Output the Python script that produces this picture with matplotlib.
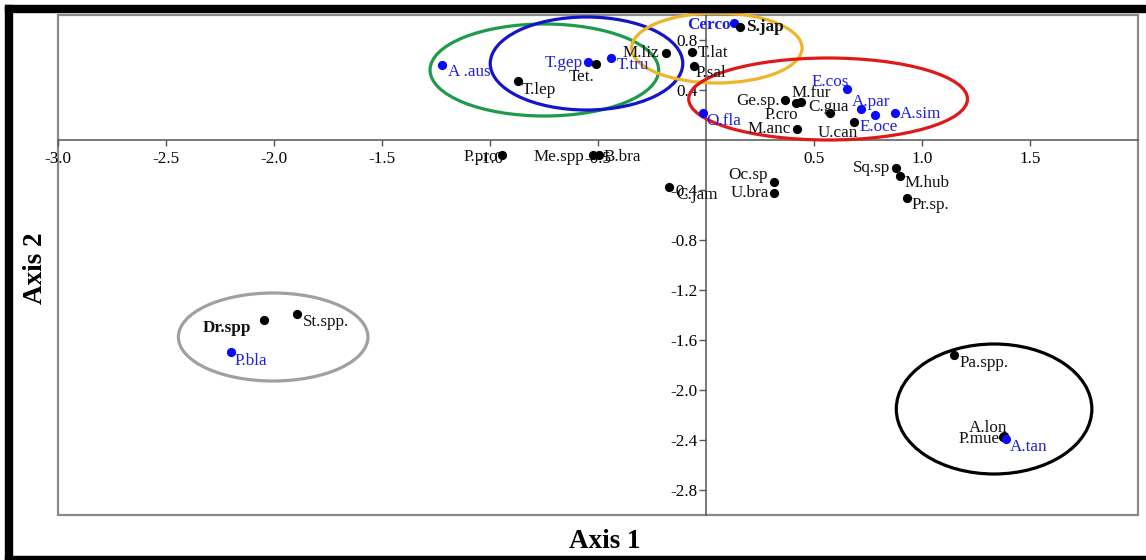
import matplotlib
matplotlib.use("Agg")
import matplotlib.pyplot as plt
from matplotlib.patches import Ellipse, Rectangle

plt.rcParams['font.family'] = ['Liberation Serif', 'DejaVu Serif']
plt.rcParams['axes.unicode_minus'] = False

# ---- data ----
species = ["A .aus", "T.lep", "T.gep", "Tet.", "T.tru", "M.liz", "T.lat", "P.sal",
           "Cerco", "S.jap", "O.fla", "Ge.sp.", "P.cro", "M.fur", "C.gua", "U.can",
           "M.anc", "E.cos", "A.par", "E.oce", "A.sim", "P.pro", "Me.spp", "B.bra",
           "C.jam", "Oc.sp", "U.bra", "Sq.sp", "M.hub", "Pr.sp.", "Dr.spp", "St.spp.",
           "P.bla", "Pa.spp.", "A.lon", "P.mue", "A.tan"]
axis1 = [-1.220, -0.871, -0.544, -0.510, -0.438, -0.186, -0.066, -0.054,
         0.131, 0.159, -0.015, 0.368, 0.418, 0.441, 0.575, 0.688,
         0.422, 0.653, 0.719, 0.781, 0.874, -0.943, -0.524, -0.492,
         -0.170, 0.314, 0.317, 0.882, 0.900, 0.933, -2.045, -1.890,
         -2.196, 1.149, 1.378, 1.374, 1.389]
axis2 = [0.600, 0.472, 0.622, 0.608, 0.658, 0.698, 0.702, 0.592,
         0.938, 0.906, 0.214, 0.320, 0.298, 0.306, 0.214, 0.144,
         0.088, 0.406, 0.246, 0.198, 0.214, -0.120, -0.120, -0.120,
         -0.374, -0.334, -0.422, -0.226, -0.286, -0.462, -1.440, -1.392,
         -1.698, -1.720, -2.368, -2.376, -2.390]
group = ["b", "k", "b", "k", "b", "k", "k", "k",
         "b", "k", "b", "k", "k", "k", "k", "k",
         "k", "b", "b", "b", "b", "k", "k", "k",
         "k", "k", "k", "k", "k", "k", "k", "k",
         "b", "k", "k", "k", "b"]
bold_labels = ["Cerco", "S.jap", "Dr.spp"]

xticks = [-3.0, -2.5, -2.0, -1.5, -1.0, -0.5, 0.5, 1.0, 1.5]
yticks = [0.8, 0.4, -0.4, -0.8, -1.2, -1.6, -2.0, -2.4, -2.8]

# ---- layout: label offsets in pixels (dx, dy up) ----
label_offsets = [(6, -6.7), (4.4, -9), (-43.7, -1), (-27, -12.7), (5.3, -7.3), (-43.3, 0),
                 (6, -1), (1.7, -6.7), (-46.6, -2.3), (5.7, 0), (3.3, -7.7), (-49.3, -0.7),
                 (-31.7, -12.3), (-10, 8.4), (-22.3, 6.6), (-36.6, -11.3), (-49.3, 0),
                 (-35.7, 7.6), (-9, 7.6), (-15, -11.4), (5, -1), (-38.4, -1.7), (-59.3, -1.7),
                 (4.3, -1.7), (6.7, -8.3), (-45.4, 6.7), (-44, -0.6), (-43.3, 0), (4.3, -7.6),
                 (4, -7.3), (-61, -8.3), (5.6, -7.7), (3.3, -8.4), (5.6, -8.3), (-34.7, 7.7),
                 (-44.3, -2), (4, -8)]

# group ellipses: (cx, cy, width, height, color) in data units
ellipses = [(-0.747, 0.560, 1.058, 0.736, "#1e9a4a"),
            (-0.552, 0.612, 0.891, 0.744, "#1414c8"),
            (0.051, 0.736, 0.789, 0.560, "#f0b428"),
            (0.566, 0.328, 1.290, 0.656, "#e01818"),
            (-2.002, -1.576, 0.877, 0.704, "#a0a0a0"),
            (1.334, -2.152, 0.905, 1.040, "#000000")]

colors = {"b": "#0a0aff", "k": "#000000"}
text_colors = {"b": "#2020d8", "k": "#111111"}

W, H = 1146, 560
fig = plt.figure(figsize=(W / 100, H / 100), dpi=100)
ax = fig.add_axes([57.5 / W, (H - 515) / H, (1138 - 57.5) / W, 500 / H])
ax.set_xlim(-3.0, 2.0)
ax.set_ylim(-3.0, 1.0)

for cx, cy, w, h, c in ellipses:
    ax.add_patch(Ellipse((cx, cy), w, h, fill=False, edgecolor=c, lw=2.3,
                         zorder=2, clip_on=False))

for name, x, y, g, (dx, dy) in zip(species, axis1, axis2, group, label_offsets):
    ax.scatter([x], [y], s=44, color=colors[g], zorder=4, linewidths=0)
    ax.annotate(name, (x, y), xytext=(dx, dy), textcoords="offset pixels",
                ha="left", va="center", fontsize=12.3, color=text_colors[g],
                fontweight="bold" if name in bold_labels else "normal", zorder=5)

# axes crossing at zero
for side in ["top", "right"]:
    ax.spines[side].set_visible(False)
ax.spines["left"].set_position(("data", 0))
ax.spines["bottom"].set_position(("data", 0))
for side in ["left", "bottom"]:
    ax.spines[side].set_color("#555555")
    ax.spines[side].set_linewidth(1.1)
    ax.spines[side].set_zorder(1)

ax.set_xticks(xticks)
ax.set_xticklabels([f"{v:.1f}" for v in xticks])
ax.set_yticks(yticks)
ax.set_yticklabels([f"{v:.1f}" for v in yticks])
ax.tick_params(axis="x", direction="out", length=4, width=1, color="#555555",
               pad=4, labelsize=12.3)
ax.tick_params(axis="y", direction="out", length=5, width=1, color="#555555",
               pad=1, labelsize=12.3)

# outer frame of plot area
ax.add_patch(Rectangle((0, 0), 1, 1, transform=ax.transAxes, fill=False,
                       edgecolor="#8a8a8a", lw=1.6, clip_on=False, zorder=1))

fig.text(605 / W, 1 - 541 / H, "Axis 1", ha="center", va="center",
         fontsize=19.5, fontweight="bold")
fig.text(35 / W, 1 - 268 / H, "Axis 2", ha="center", va="center",
         fontsize=19.5, fontweight="bold", rotation=90)

# black figure border (left, top, bottom)
fig.patches.append(Rectangle((5 / W, 0), 7 / W, (H - 5) / H, transform=fig.transFigure,
                             color="black", zorder=10))
fig.patches.append(Rectangle((5 / W, (H - 12) / H), (W - 5) / W, 7 / H,
                             transform=fig.transFigure, color="black", zorder=10))
fig.patches.append(Rectangle((5 / W, 0), (W - 5) / W, 4 / H,
                             transform=fig.transFigure, color="black", zorder=10))

fig.savefig("out.png", dpi=100)
